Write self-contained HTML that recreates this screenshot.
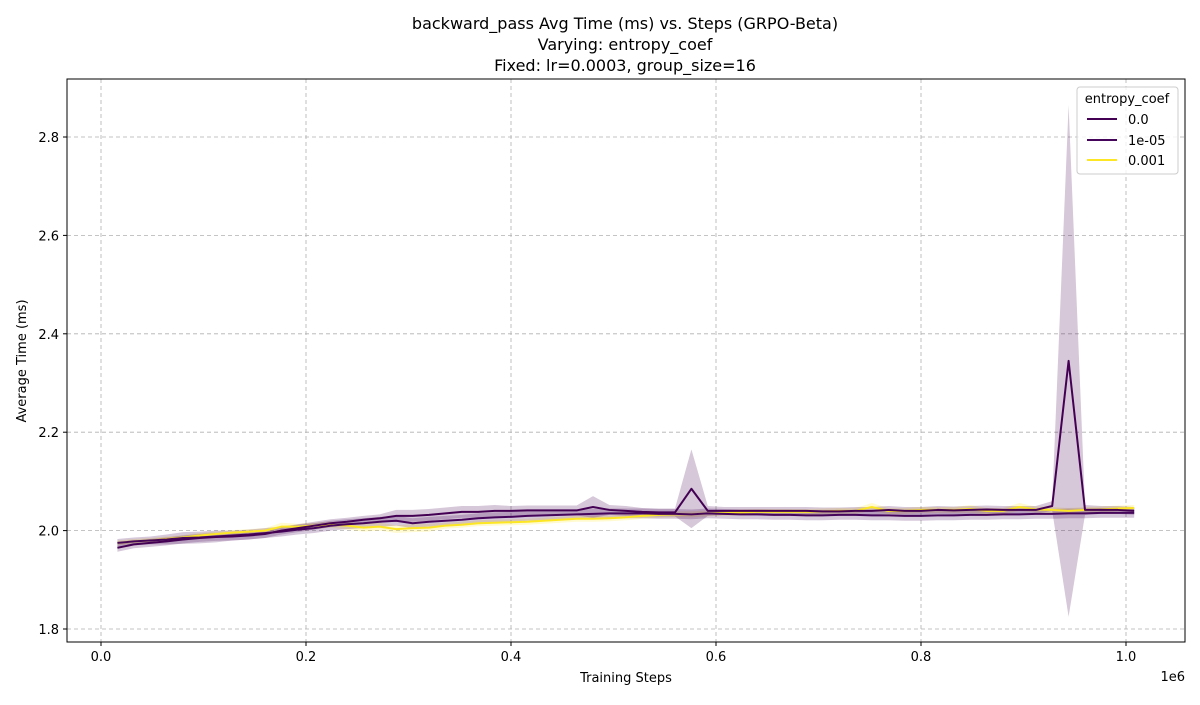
<!DOCTYPE html>
<html><head><meta charset="utf-8"><style>
body{margin:0;background:#fff;font-family:"Liberation Sans","DejaVu Sans",sans-serif;}
svg text{font-family:"DejaVu Sans","Liberation Sans",sans-serif;}
</style></head><body>
<svg id="chart" width="1200" height="700" xmlns="http://www.w3.org/2000/svg">
<rect width="1200" height="700" fill="#fff"/>
<text x="625" y="29" font-size="16" text-anchor="middle">backward_pass Avg Time (ms) vs. Steps (GRPO-Beta)</text>
<text x="625" y="50" font-size="16" text-anchor="middle">Varying: entropy_coef</text>
<text x="625" y="71" font-size="16" text-anchor="middle">Fixed: lr=0.0003, group_size=16</text>
<g id="grid"></g>
<g id="bands"></g>
<g id="lines"></g>
<rect x="67" y="79" width="1118" height="563" fill="none" stroke="#000" stroke-width="1"/>
<g id="ticks"></g>
<text x="626" y="682" font-size="13" text-anchor="middle">Training Steps</text>
<text x="1185" y="681" font-size="13" text-anchor="end">1e6</text>
<text transform="translate(26,361) rotate(-90)" font-size="13" text-anchor="middle">Average Time (ms)</text>
<g>
<rect x="1077" y="87" width="101" height="87" rx="3" fill="#fff" fill-opacity="0.8" stroke="#ccc"/>
<text x="1127" y="103" font-size="13" text-anchor="middle">entropy_coef</text>
<line x1="1087" y1="119" x2="1117" y2="119" stroke="#440154" stroke-width="2"/>
<text x="1128" y="124" font-size="13">0.0</text>
<line x1="1087" y1="140" x2="1117" y2="140" stroke="#45055a" stroke-width="2"/>
<text x="1128" y="145" font-size="13">1e-05</text>
<line x1="1087" y1="160" x2="1117" y2="160" stroke="#fde725" stroke-width="2"/>
<text x="1128" y="165" font-size="13">0.001</text>
</g>
</svg>
<script>
const xTicks=[0,0.2,0.4,0.6,0.8,1.0];
const xTickLabels=["0.0","0.2","0.4","0.6","0.8","1.0"];
const yTicks=[1.8,2.0,2.2,2.4,2.6,2.8];
const yTickLabels=["1.8","2.0","2.2","2.4","2.6","2.8"];
const stepStart=16000, stepSize=16000;
const seriesA=[1.965,1.972,1.975,1.978,1.982,1.985,1.987,1.988,1.990,1.993,
2.000,2.005,2.010,2.015,2.018,2.022,2.025,2.030,2.030,2.032,
2.035,2.038,2.038,2.040,2.040,2.041,2.041,2.041,2.041,2.048,
2.042,2.040,2.038,2.037,2.037,2.085,2.040,2.040,2.040,2.040,
2.040,2.040,2.040,2.039,2.039,2.040,2.040,2.042,2.040,2.040,
2.042,2.041,2.042,2.043,2.042,2.042,2.042,2.050,2.345,2.042,2.042,2.042,2.040];
const seriesB=[1.975,1.978,1.980,1.982,1.985,1.986,1.988,1.990,1.992,1.995,1.998,2.002,2.005,2.010,2.013,2.015,2.018,2.020,
2.015,2.018,2.020,2.022,2.025,2.027,2.028,2.030,2.031,2.032,2.033,2.034,
2.035,2.035,2.035,2.034,2.034,2.033,2.035,2.034,2.033,2.033,
2.032,2.032,2.031,2.031,2.032,2.032,2.031,2.031,2.030,2.030,
2.031,2.031,2.032,2.032,2.033,2.033,2.034,2.034,2.035,2.035,2.036,2.036,2.036];
const seriesC=[1.975,1.978,1.980,1.983,1.986,1.990,1.993,1.996,1.998,2.000,2.008,2.008,2.010,2.012,2.010,2.006,2.008,2.003,2.005,2.006,
2.010,2.012,2.015,2.016,2.017,2.018,2.020,2.022,2.024,2.024,
2.025,2.027,2.030,2.032,2.033,2.033,2.035,2.036,2.037,2.038,
2.038,2.038,2.038,2.039,2.040,2.040,2.048,2.040,2.040,2.042,
2.042,2.042,2.044,2.040,2.040,2.048,2.043,2.042,2.040,2.042,2.043,2.045,2.046];
const ciA=[0.008,0.008,0.008,0.008,0.008,0.008,0.008,0.008,0.008,0.008,0.008,0.008,0.008,0.008,0.008,0.008,0.008,0.012,0.012,0.012,
0.012,0.012,0.012,0.012,0.010,0.010,0.010,0.010,0.010,0.022,0.010,0.010,0.008,0.008,0.008,0.080,0.010,0.008,0.008,0.008,
0.008,0.008,0.008,0.008,0.008,0.008,0.008,0.008,0.008,0.008,0.008,0.008,0.008,0.008,0.008,0.008,0.008,0.010,0.520,0.010,0.008,0.008,0.008];
const ciB=[0.008,0.008,0.008,0.010,0.012,0.012,0.012,0.010,0.010,0.010,0.010,0.010,0.010,0.010,0.010,0.010,0.010,0.010,0.010,0.010,
0.010,0.010,0.010,0.010,0.010,0.010,0.010,0.010,0.010,0.010,0.010,0.010,0.010,0.010,0.010,0.010,0.010,0.010,0.010,0.010,
0.010,0.010,0.010,0.010,0.010,0.010,0.010,0.010,0.010,0.010,0.010,0.010,0.010,0.010,0.010,0.010,0.010,0.010,0.010,0.010,0.010,0.010,0.010];
const ciC=[0.005,0.005,0.005,0.005,0.005,0.005,0.005,0.005,0.005,0.005,0.008,0.006,0.006,0.006,0.008,0.008,0.008,0.008,0.008,0.008,
0.006,0.006,0.006,0.006,0.006,0.006,0.006,0.006,0.006,0.006,0.006,0.006,0.006,0.006,0.006,0.006,0.006,0.006,0.006,0.006,
0.006,0.006,0.006,0.006,0.006,0.006,0.008,0.006,0.006,0.006,0.006,0.006,0.008,0.006,0.006,0.008,0.006,0.006,0.006,0.006,0.006,0.006,0.006];
const NS="http://www.w3.org/2000/svg";
function xs(v){return 101+(v/1e6)*1025;}
function xt(t){return 101+t*1025;}
function ys(v){return 629-(v-1.8)*492;}
function mk(tag,attrs,parent){const e=document.createElementNS(NS,tag);for(const k in attrs)e.setAttribute(k,attrs[k]);document.getElementById(parent).appendChild(e);return e;}
xTicks.forEach((t,i)=>{
 const g=mk('line',{x1:xt(t),x2:xt(t),y1:79,y2:642,stroke:'#b0b0b0','stroke-dasharray':'4,3','stroke-width':0.8},'grid');
 
 
 const tk=mk('line',{x1:xt(t),x2:xt(t),y1:642,y2:646,stroke:'#000'},'ticks');
 
 
 const tx=mk('text',{x:xt(t),y:661,'font-size':13,'text-anchor':'middle'},'ticks');tx.textContent=xTickLabels[i];
 
 
});
yTicks.forEach((t,i)=>{
 const g=mk('line',{x1:67,x2:1185,y1:ys(t),y2:ys(t),stroke:'#b0b0b0','stroke-dasharray':'4,3','stroke-width':0.8},'grid');
 
 
 const tk=mk('line',{x1:63,x2:67,y1:ys(t),y2:ys(t),stroke:'#000'},'ticks');
 
 
 const tx=mk('text',{x:59,y:ys(t)+5,'font-size':13,'text-anchor':'end'},'ticks');tx.textContent=yTickLabels[i];
 
 
});
function draw(vals,ci,color,bandColor,name){
 const steps=vals.map((v,i)=>stepStart+i*stepSize);
 let up=vals.map((v,i)=>xs(steps[i])+','+ys(v+ci[i]));
 let dn=vals.map((v,i)=>xs(steps[i])+','+ys(v-ci[i])).reverse();
 const b=mk('polygon',{points:up.concat(dn).join(' '),fill:bandColor,'fill-opacity':0.22,stroke:'none'},'bands');
 
 
 const l=mk('polyline',{points:vals.map((v,i)=>xs(steps[i])+','+ys(v)).join(' '),fill:'none',stroke:color,'stroke-width':2,'stroke-linejoin':'round'},'lines');
 
 
}
draw(seriesC,ciC,'#fde725','#fde725','series-0-001');
draw(seriesB,ciB,'#45055a','#45055a','series-1e-05');
draw(seriesA,ciA,'#440154','#440154','series-0-0');
</script>
</body></html>
